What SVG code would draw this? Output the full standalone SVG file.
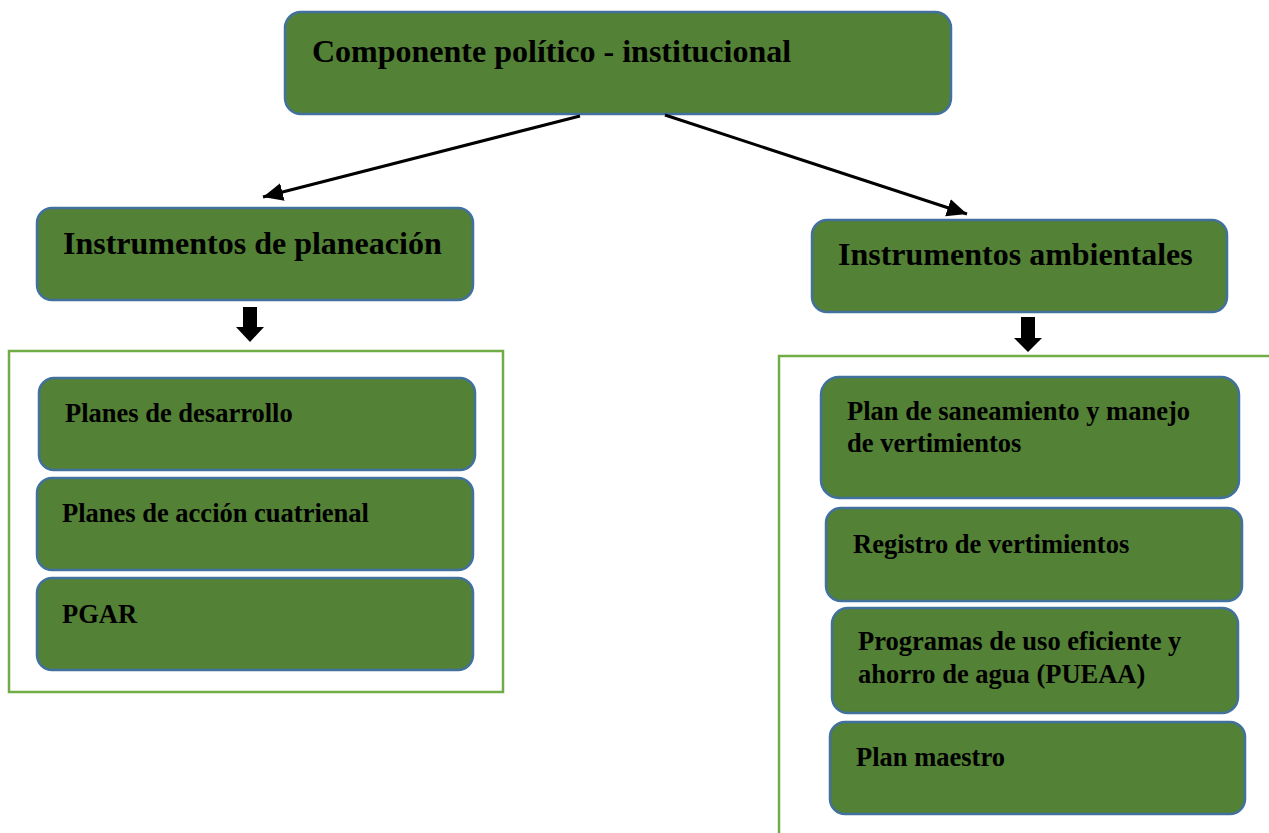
<svg xmlns="http://www.w3.org/2000/svg" width="1269" height="833" viewBox="0 0 1269 833">
<style>
.box{fill:#538135;stroke:#41719C;stroke-width:2.5}
.cont{fill:none;stroke:#70AD47;stroke-width:2.5}
.big{font-family:"Liberation Serif","Times New Roman",serif;font-weight:bold;font-size:32px;fill:#000}
.sm{font-family:"Liberation Serif","Times New Roman",serif;font-weight:bold;font-size:26.5px;fill:#000}
.conn{stroke:#000;stroke-width:3;fill:none}
.blk{fill:#000}
</style>
<defs>
<marker id="ah" markerUnits="userSpaceOnUse" markerWidth="24" markerHeight="20" refX="20" refY="9" orient="auto">
<path d="M0,0 L20,9 L0,18 Z" fill="#000"/>
</marker>
</defs>
<rect width="1269" height="833" fill="#fff"/>

<g id="cont-left"><rect class="cont" x="9" y="351" width="494" height="341"/></g>
<g id="cont-right"><path class="cont" d="M779,840 L779,356 L1275,356"/></g>

<g id="n-top">
<rect class="box" x="285" y="12" width="666" height="102" rx="16"/>
<text class="big" x="312" y="62">Componente político - institucional</text>
</g>

<g id="n-planeacion">
<rect class="box" x="37" y="208" width="436" height="92" rx="15"/>
<text class="big" x="63" y="254">Instrumentos de planeación</text>
</g>

<g id="n-ambientales">
<rect class="box" x="812" y="220" width="415" height="92" rx="15"/>
<text class="big" x="838" y="265">Instrumentos ambientales</text>
</g>

<g id="n-desarrollo">
<rect class="box" x="39" y="378" width="436" height="92" rx="15"/>
<text class="sm" x="65" y="422">Planes de desarrollo</text>
</g>
<g id="n-accion">
<rect class="box" x="37" y="478" width="436" height="92" rx="15"/>
<text class="sm" x="62" y="522">Planes de acción cuatrienal</text>
</g>
<g id="n-pgar">
<rect class="box" x="37" y="578" width="436" height="92" rx="15"/>
<text class="sm" x="62" y="623">PGAR</text>
</g>

<g id="n-saneamiento">
<rect class="box" x="821" y="377" width="418" height="121" rx="18"/>
<text class="sm" x="847" y="420">Plan de saneamiento y manejo</text>
<text class="sm" x="847" y="452">de vertimientos</text>
</g>
<g id="n-registro">
<rect class="box" x="826" y="508" width="416" height="93" rx="15"/>
<text class="sm" x="853" y="553">Registro de vertimientos</text>
</g>
<g id="n-pueaa">
<rect class="box" x="832" y="608" width="406" height="105" rx="16"/>
<text class="sm" x="858" y="650">Programas de uso eficiente y</text>
<text class="sm" x="858" y="683">ahorro de agua (PUEAA)</text>
</g>
<g id="n-maestro">
<rect class="box" x="830" y="722" width="415" height="92" rx="15"/>
<text class="sm" x="856" y="766">Plan maestro</text>
</g>

<g id="connectors">
<line class="conn" x1="580" y1="116" x2="263" y2="197" marker-end="url(#ah)"/>
<line class="conn" x1="665" y1="115" x2="967" y2="214" marker-end="url(#ah)"/>
<path class="blk" d="M243,307 L257,307 L257,327 L264,327 L250,342 L236,327 L243,327 Z"/>
<path class="blk" d="M1021,317 L1035,317 L1035,338 L1042,338 L1028,352 L1014,338 L1021,338 Z"/>
</g>
</svg>
